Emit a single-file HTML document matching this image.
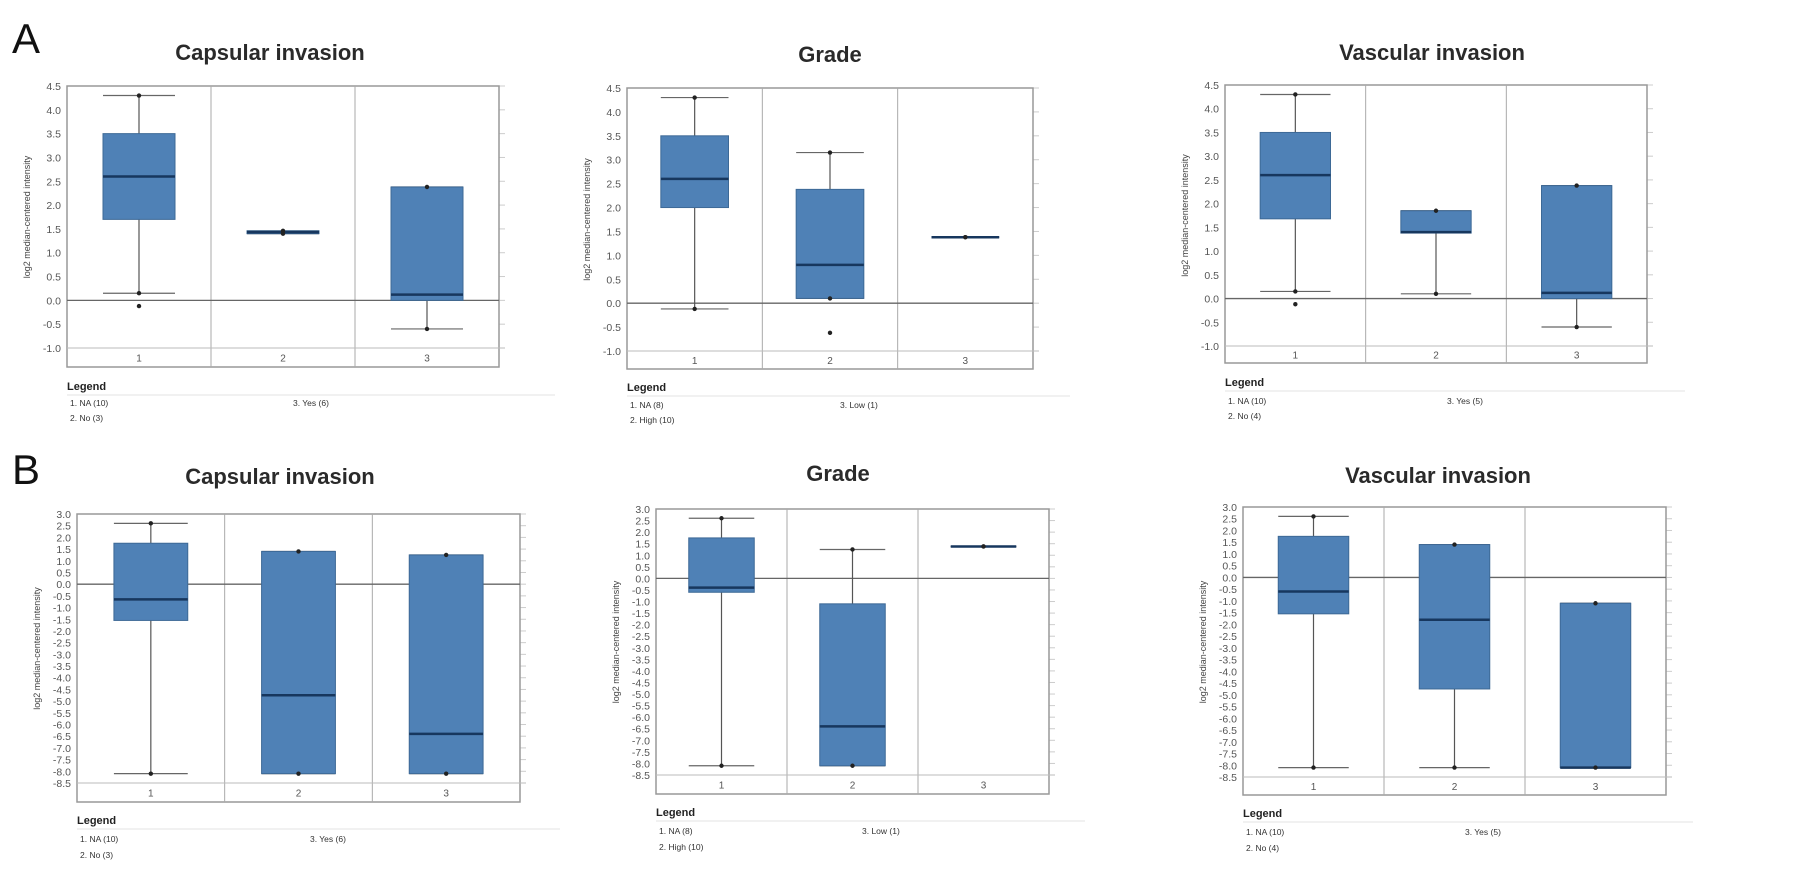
<!DOCTYPE html>
<html><head><meta charset="utf-8">
<style>
html,body{margin:0;padding:0;background:#fff;}
svg{display:block;font-family:"Liberation Sans",sans-serif;}
</style></head>
<body>
<svg id="fig" width="1795" height="876" viewBox="0 0 1795 876" xmlns="http://www.w3.org/2000/svg">
<text x="12" y="53" font-size="42" fill="#111">A</text>
<text x="12" y="484" font-size="42" fill="#111">B</text>
</svg>
<script>
// ---- data (five-number summaries, per panel) ----
const categories = ["1","2","3"];
const aTicks = [4.5,4.0,3.5,3.0,2.5,2.0,1.5,1.0,0.5,0.0,-0.5,-1.0];
const bTicks = [3.0,2.5,2.0,1.5,1.0,0.5,0.0,-0.5,-1.0,-1.5,-2.0,-2.5,-3.0,-3.5,-4.0,-4.5,-5.0,-5.5,-6.0,-6.5,-7.0,-7.5,-8.0,-8.5];

const aCapLow  = [0.15, 1.4, -0.6];
const aCapQ1   = [1.7, 1.4, 0.0];
const aCapMed  = [2.6, 1.43, 0.12];
const aCapQ3   = [3.5, 1.46, 2.38];
const aCapHigh = [4.3, 1.46, 2.38];
const aCapOut  = [-0.12, null, null];

const aGrdLow  = [-0.12, 0.1, 1.38];
const aGrdQ1   = [2.0, 0.1, 1.38];
const aGrdMed  = [2.6, 0.8, 1.38];
const aGrdQ3   = [3.5, 2.38, 1.38];
const aGrdHigh = [4.3, 3.15, 1.38];
const aGrdOut  = [null, -0.62, null];

const aVasLow  = [0.15, 0.1, -0.6];
const aVasQ1   = [1.68, 1.38, 0.0];
const aVasMed  = [2.6, 1.4, 0.12];
const aVasQ3   = [3.5, 1.85, 2.38];
const aVasHigh = [4.3, 1.85, 2.38];
const aVasOut  = [-0.12, null, null];

const bCapLow  = [-8.1, -8.1, -8.1];
const bCapQ1   = [-1.55, -8.1, -8.1];
const bCapMed  = [-0.65, -4.75, -6.4];
const bCapQ3   = [1.75, 1.4, 1.25];
const bCapHigh = [2.6, 1.4, 1.25];
const bCapOut  = [null, null, null];

const bGrdLow  = [-8.1, -8.1, 1.38];
const bGrdQ1   = [-0.6, -8.1, 1.38];
const bGrdMed  = [-0.4, -6.4, 1.38];
const bGrdQ3   = [1.75, -1.1, 1.38];
const bGrdHigh = [2.6, 1.25, 1.38];
const bGrdOut  = [null, null, null];

const bVasLow  = [-8.1, -8.1, -8.1];
const bVasQ1   = [-1.55, -4.75, -8.1];
const bVasMed  = [-0.6, -1.8, -8.1];
const bVasQ3   = [1.75, 1.4, -1.1];
const bVasHigh = [2.6, 1.4, -1.1];
const bVasOut  = [null, null, null];

const legCap = ["1. NA (10)","2. No (3)","3. Yes (6)"];
const legGrd = ["1. NA (8)","2. High (10)","3. Low (1)"];
const legVas = ["1. NA (10)","2. No (4)","3. Yes (5)"];

const NS = "http://www.w3.org/2000/svg";
const svg = document.getElementById("fig");
function mk(tag, attrs, parent){
  const e = document.createElementNS(NS, tag);
  for (const k in attrs) e.setAttribute(k, attrs[k]);
  (parent||svg).appendChild(e);
  return e;
}

const panels = [
 {id:"a-capsular", title:"Capsular invasion", tx:270, ty:60, x0:67, x1:499, yTop:86, yBot:348, fBot:367, ticks:aTicks, lo:aCapLow,q1:aCapQ1,md:aCapMed,q3:aCapQ3,hi:aCapHigh,out:aCapOut, leg:legCap, lgY:390, li:[70,293], liY:[406,421], lineEnd:555},
 {id:"a-grade", title:"Grade", tx:830, ty:62, x0:627, x1:1033, yTop:88, yBot:351, fBot:369, ticks:aTicks, lo:aGrdLow,q1:aGrdQ1,md:aGrdMed,q3:aGrdQ3,hi:aGrdHigh,out:aGrdOut, leg:legGrd, lgY:391, li:[630,840], liY:[408,423], lineEnd:1070},
 {id:"a-vascular", title:"Vascular invasion", tx:1432, ty:60, x0:1225, x1:1647, yTop:85, yBot:346, fBot:363, ticks:aTicks, lo:aVasLow,q1:aVasQ1,md:aVasMed,q3:aVasQ3,hi:aVasHigh,out:aVasOut, leg:legVas, lgY:386, li:[1228,1447], liY:[404,419], lineEnd:1685},
 {id:"b-capsular", title:"Capsular invasion", tx:280, ty:484, x0:77, x1:520, yTop:514, yBot:783, fBot:802, ticks:bTicks, lo:bCapLow,q1:bCapQ1,md:bCapMed,q3:bCapQ3,hi:bCapHigh,out:bCapOut, leg:legCap, lgY:824, li:[80,310], liY:[842,858], lineEnd:560},
 {id:"b-grade", title:"Grade", tx:838, ty:481, x0:656, x1:1049, yTop:509, yBot:775, fBot:794, ticks:bTicks, lo:bGrdLow,q1:bGrdQ1,md:bGrdMed,q3:bGrdQ3,hi:bGrdHigh,out:bGrdOut, leg:legGrd, lgY:816, li:[659,862], liY:[834,850], lineEnd:1085},
 {id:"b-vascular", title:"Vascular invasion", tx:1438, ty:483, x0:1243, x1:1666, yTop:507, yBot:777, fBot:795, ticks:bTicks, lo:bVasLow,q1:bVasQ1,md:bVasMed,q3:bVasQ3,hi:bVasHigh,out:bVasOut, leg:legVas, lgY:817, li:[1246,1465], liY:[835,851], lineEnd:1693}
];

panels.forEach(p => {
  const g = mk("g", {});
  
  
  const tMax = p.ticks[0], tMin = p.ticks[p.ticks.length-1];
  const y = v => p.yTop + (tMax - v) / (tMax - tMin) * (p.yBot - p.yTop);
  const cw = (p.x1 - p.x0) / categories.length;
  const cx = i => p.x0 + cw * (i + 0.5);

  const t = mk("text", {x:p.tx, y:p.ty, "font-size":22, "font-weight":"bold", fill:"#2a2a2a", "text-anchor":"middle"}, g);
  t.textContent = p.title;
  
  

  p.ticks.forEach(v => {
    const tl = mk("text", {x:p.x0-6, y:y(v)+4, "font-size":10.5, fill:"#555", "text-anchor":"end"}, g);
    tl.textContent = v.toFixed(1);
    
    
    mk("line", {x1:p.x1, x2:p.x1+6, y1:y(v), y2:y(v), stroke:"#ccc", "stroke-width":1}, g);
  });
  const midY = (p.yTop + p.yBot) / 2;
  const yt = mk("text", {x:0, y:0, "font-size":9, fill:"#444", "text-anchor":"middle", transform:`translate(${p.x0-37},${midY}) rotate(-90)`}, g);
  yt.textContent = "log2 median-centered intensity";
  
  

  const fr = mk("rect", {x:p.x0, y:p.yTop, width:p.x1-p.x0, height:p.fBot-p.yTop, fill:"none", stroke:"#999", "stroke-width":1.5}, g);
  
  
  for (let i = 1; i < categories.length; i++)
    mk("line", {x1:p.x0+cw*i, x2:p.x0+cw*i, y1:p.yTop, y2:p.fBot, stroke:"#aaa", "stroke-width":1}, g);
  mk("line", {x1:p.x0, x2:p.x1+6, y1:p.yBot, y2:p.yBot, stroke:"#bbb", "stroke-width":1}, g);
  mk("line", {x1:p.x0, x2:p.x1, y1:y(0), y2:y(0), stroke:"#666", "stroke-width":1.3}, g);

  categories.forEach((c, i) => {
    const cl = mk("text", {x:cx(i), y:(p.yBot+p.fBot)/2+4, "font-size":10, fill:"#555", "text-anchor":"middle"}, g);
    cl.textContent = c;
    
    

    const bw = cw * 0.5, bx = cx(i) - bw/2;
    const wh = mk("line", {x1:cx(i), x2:cx(i), y1:y(p.hi[i]), y2:y(p.lo[i]), stroke:"#555", "stroke-width":1.2}, g);
    
    
    mk("line", {x1:bx, x2:bx+bw, y1:y(p.hi[i]), y2:y(p.hi[i]), stroke:"#666", "stroke-width":1.2}, g);
    mk("line", {x1:bx, x2:bx+bw, y1:y(p.lo[i]), y2:y(p.lo[i]), stroke:"#666", "stroke-width":1.2}, g);
    const h = Math.max(y(p.q1[i]) - y(p.q3[i]), 0);
    if (h > 0.5) {
      const bxr = mk("rect", {x:bx, y:y(p.q3[i]), width:bw, height:h, fill:"#4f81b6", stroke:"#3d6996", "stroke-width":1}, g);
      
      
    }
    const md = mk("line", {x1:bx, x2:bx+bw, y1:y(p.md[i]), y2:y(p.md[i]), stroke:"#17375e", "stroke-width":2.5}, g);
    
    
    mk("circle", {cx:cx(i), cy:y(p.hi[i]), r:2.2, fill:"#222"}, g);
    mk("circle", {cx:cx(i), cy:y(p.lo[i]), r:2.2, fill:"#222"}, g);
    if (p.out[i] !== null) {
      const o = mk("circle", {cx:cx(i), cy:y(p.out[i]), r:2.2, fill:"#222"}, g);
      
      
    }
  });

  const lg = mk("text", {x:p.x0, y:p.lgY, "font-size":11, "font-weight":"bold", fill:"#222"}, g);
  lg.textContent = "Legend";
  
  
  mk("line", {x1:p.x0, x2:p.lineEnd, y1:p.lgY+5, y2:p.lgY+5, stroke:"#e3e3e3", "stroke-width":1}, g);
  const pos = [[p.li[0], p.liY[0]], [p.li[0], p.liY[1]], [p.li[1], p.liY[0]]];
  p.leg.forEach((s, i) => {
    const le = mk("text", {x:pos[i][0], y:pos[i][1], "font-size":8.5, fill:"#333"}, g);
    le.textContent = s;
    
    
  });
});
</script>
</body></html>
